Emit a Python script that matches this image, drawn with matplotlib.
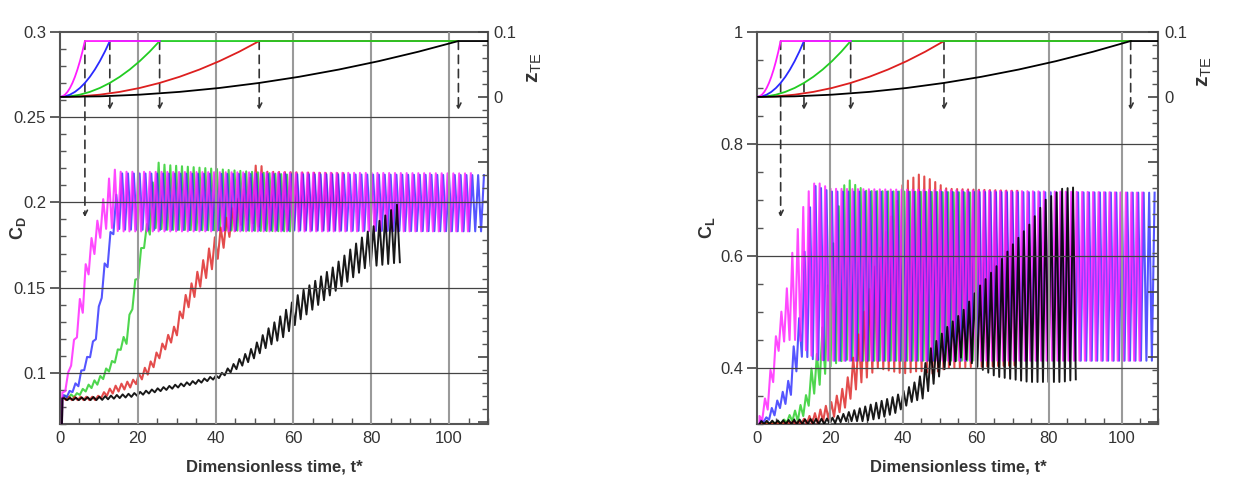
import numpy as np
import matplotlib
matplotlib.use("Agg")
import matplotlib.pyplot as plt
from matplotlib.ticker import MultipleLocator, FixedLocator, FuncFormatter

plt.rcParams['font.family'] = ['Liberation Sans', 'DejaVu Sans']
plt.rcParams['mathtext.fontset'] = 'custom'
plt.rcParams['mathtext.rm'] = 'Liberation Sans'
plt.rcParams['mathtext.bf'] = 'Liberation Sans:bold'
plt.rcParams['mathtext.it'] = 'Liberation Sans:italic'

# ---------------- data ----------------
names = ["magenta", "blue", "green", "red", "black"]
colors = {"magenta": "#ff1cff", "blue": "#2a2aff", "green": "#22cc22",
          "red": "#dd1f1f", "black": "#000000"}
ramp_T = {"magenta": 6.4, "blue": 12.8, "green": 25.6, "red": 51.2, "black": 102.4}
z_end = {"magenta": 25.6, "blue": 25.6, "green": 102.4, "red": 102.4, "black": 110.0}
z_plateau = 0.086
ramp_frac = [0.0, 0.1, 0.2, 0.3, 0.4, 0.5, 0.6, 0.7, 0.8, 0.9, 1.0]
ramp_shape = [0.0, 0.01, 0.04, 0.09, 0.16, 0.25, 0.36, 0.49, 0.64, 0.81, 1.0]
period = 1.5
phase = {"magenta": 0.0, "blue": 0.37, "green": 0.75, "red": 0.2, "black": 0.5}

# CD envelopes (t, upper, lower), last knot = end of run
cd_t = {
    "magenta": [0, 1, 2.5, 4, 5.5, 7.5, 10, 12, 13.5, 15, 106],
    "blue": [0, 2, 4.7, 5.7, 7.7, 9.4, 10.3, 12, 12.8, 14.1, 15.5, 109],
    "green": [0, 4.3, 10.3, 13.7, 16.3, 17.1, 18.4, 19.7, 21.4, 22.7, 24.5, 27, 60],
    "red": [0, 9.4, 13.7, 18.8, 23.1, 27.4, 29.9, 31.7, 35.9, 39.4, 43.6, 47.9, 50.8, 53, 73],
    "black": [0, 10.3, 18.8, 27.4, 35.9, 41, 44.5, 49.6, 53.1, 57.4, 61.6, 70.2, 78.7, 87.7],
}
cd_up = {
    "magenta": [0.086, 0.09, 0.104, 0.125, 0.15, 0.175, 0.192, 0.21, 0.22, 0.218, 0.217],
    "blue": [0.086, 0.088, 0.096, 0.103, 0.113, 0.125, 0.147, 0.172, 0.18, 0.2, 0.217, 0.216],
    "green": [0.086, 0.088, 0.098, 0.108, 0.121, 0.122, 0.143, 0.159, 0.18, 0.19, 0.224, 0.222, 0.216],
    "red": [0.086, 0.086, 0.092, 0.096, 0.106, 0.121, 0.129, 0.143, 0.162, 0.178, 0.194, 0.21, 0.224, 0.218, 0.217],
    "black": [0.085, 0.086, 0.088, 0.092, 0.096, 0.099, 0.105, 0.115, 0.125, 0.135, 0.147, 0.162, 0.182, 0.201],
}
cd_lo = {
    "magenta": [0.084, 0.086, 0.1, 0.118, 0.13, 0.16, 0.178, 0.185, 0.185, 0.183, 0.183],
    "blue": [0.084, 0.086, 0.092, 0.099, 0.109, 0.121, 0.139, 0.159, 0.17, 0.186, 0.184, 0.183],
    "green": [0.084, 0.086, 0.094, 0.104, 0.117, 0.117, 0.135, 0.15, 0.172, 0.18, 0.185, 0.184, 0.183],
    "red": [0.084, 0.084, 0.088, 0.092, 0.1, 0.115, 0.121, 0.133, 0.15, 0.162, 0.18, 0.19, 0.186, 0.184, 0.184],
    "black": [0.084, 0.084, 0.086, 0.09, 0.094, 0.097, 0.101, 0.108, 0.115, 0.121, 0.131, 0.147, 0.162, 0.165],
}

# CL envelopes
cl_t = {
    "magenta": [0, 0.7, 2.3, 3.7, 5.8, 7.6, 9.4, 11.7, 13.5, 16, 20, 106],
    "blue": [0, 2.3, 4.1, 6.4, 8.7, 10, 11.5, 13.5, 15.5, 20, 109],
    "green": [0, 6.8, 9.6, 11.5, 13.3, 15.2, 17.1, 19.4, 22, 24.4, 27.2, 30, 60],
    "red": [0, 11.5, 16, 20.5, 24.2, 26, 27.8, 33, 40, 44.5, 48, 52, 72],
    "black": [0, 20, 24.5, 29, 33.5, 38, 42.5, 45.3, 47, 51.6, 56.2, 60.8, 65.4, 70, 74.5, 79, 83.6, 87.6],
}
cl_up = {
    "magenta": [0.31, 0.315, 0.35, 0.4, 0.485, 0.52, 0.6, 0.665, 0.71, 0.733, 0.72, 0.713],
    "blue": [0.305, 0.31, 0.33, 0.35, 0.38, 0.44, 0.49, 0.65, 0.726, 0.715, 0.713],
    "green": [0.3, 0.305, 0.32, 0.33, 0.35, 0.41, 0.435, 0.55, 0.68, 0.74, 0.725, 0.716, 0.713],
    "red": [0.3, 0.305, 0.32, 0.34, 0.37, 0.41, 0.46, 0.6, 0.73, 0.746, 0.735, 0.72, 0.716],
    "black": [0.305, 0.31, 0.32, 0.33, 0.34, 0.35, 0.37, 0.39, 0.43, 0.47, 0.5, 0.545, 0.58, 0.62, 0.655, 0.7, 0.72, 0.723],
}
cl_lo = {
    "magenta": [0.3, 0.305, 0.31, 0.35, 0.43, 0.45, 0.45, 0.45, 0.43, 0.415, 0.413, 0.413],
    "blue": [0.3, 0.305, 0.31, 0.33, 0.34, 0.37, 0.42, 0.42, 0.415, 0.413, 0.413],
    "green": [0.3, 0.3, 0.305, 0.305, 0.32, 0.35, 0.37, 0.4, 0.41, 0.415, 0.413, 0.413, 0.413],
    "red": [0.3, 0.3, 0.3, 0.31, 0.33, 0.35, 0.37, 0.4, 0.39, 0.395, 0.39, 0.4, 0.405],
    "black": [0.3, 0.3, 0.305, 0.305, 0.31, 0.32, 0.34, 0.345, 0.36, 0.4, 0.42, 0.4, 0.385, 0.38, 0.375, 0.375, 0.375, 0.38],
}
start_t = [0.0, 0.6]
cd_start = [0.0, 0.085]
cl_start = [0.2, 0.3]

draw_order = ["green", "red", "blue", "magenta", "black"]
z_order = ["red", "green", "blue", "magenta", "black"]


def zigzag(tk, up, lo, ph):
    t = np.arange(tk[0] + 0.6 + ph, tk[-1], period / 2)
    u = np.interp(t, tk, up)
    l = np.interp(t, tk, lo)
    v = np.where(np.arange(len(t)) % 2 == 0, u, l)
    return t, v


def panel(ax, env_t, env_up, env_lo, start_v, ylim, ymajor, yminor, ylabel, ylab_x):
    for n in draw_order:
        t, v = zigzag(env_t[n], env_up[n], env_lo[n], phase[n])
        t = np.concatenate([start_t, t])
        v = np.concatenate([start_v, v])
        if n == "black":
            ax.plot(t, v, color=colors[n], lw=1.4, alpha=0.9, zorder=3)
        else:
            ax.plot(t, v, color=colors[n], lw=1.5, alpha=0.8, zorder=3)
    ax.set_xlim(0, 110)
    ax.set_ylim(*ylim)
    for x in [20, 40, 60, 80, 100]:
        ax.axvline(x, color="#9a9a9a", lw=1.5, zorder=6)
    for y in ymajor:
        if ylim[0] < y < ylim[1]:
            ax.axhline(y, color="#444444", lw=0.9, zorder=6)
    ax.xaxis.set_major_locator(MultipleLocator(20))
    ax.xaxis.set_minor_locator(MultipleLocator(5))
    ax.yaxis.set_major_locator(FixedLocator(ymajor))
    ax.yaxis.set_minor_locator(MultipleLocator(yminor))
    ax.yaxis.set_major_formatter(FuncFormatter(lambda v, p: ("%g" % round(v, 3))))
    ax.tick_params(axis="x", which="major", direction="in", length=6, width=1.2,
                   labelsize=12, colors="#444444", labelcolor="#333333", pad=5)
    ax.tick_params(axis="x", which="minor", direction="in", length=4, width=1.0, colors="#555555")
    ax.tick_params(axis="y", which="major", direction="out", length=7, width=1.2,
                   labelsize=12, colors="#444444", labelcolor="#333333", pad=3, right=False)
    ax.tick_params(axis="y", which="minor", direction="in", length=4, width=1.0,
                   colors="#555555", right=False)
    for s in ax.spines.values():
        s.set_color("#555555")
        s.set_linewidth(1.5)
    ax.set_xlabel("Dimensionless time, t*", fontsize=12, fontweight="bold",
                  color="#333333", labelpad=10)
    ax.set_ylabel(ylabel, fontsize=13, color="#333333")
    ax.yaxis.set_label_coords(ylab_x, 0.5)

    az = ax.twinx()
    az.set_ylim(-0.5035, 0.1)
    for n in z_order:
        T = ramp_T[n]
        tz = [f * T for f in ramp_frac] + [z_end[n]]
        zz = [s * z_plateau for s in ramp_shape] + [z_plateau]
        az.plot(tz, zz, color=colors[n], lw=1.3, zorder=4)
    for n in names:
        T = ramp_T[n]
        zt = -0.185 if n == "magenta" else -0.02
        az.annotate("", xy=(T, zt), xytext=(T, z_plateau),
                    arrowprops=dict(arrowstyle="->", color="#333333", lw=1.2,
                                    linestyle=(0, (5, 3.5)), shrinkA=0, shrinkB=0,
                                    mutation_scale=9))
    az.yaxis.set_major_locator(FixedLocator([-0.5, -0.4, -0.3, -0.2, -0.1, 0.0, 0.1]))
    az.yaxis.set_minor_locator(MultipleLocator(0.02))
    az.yaxis.set_major_formatter(FuncFormatter(lambda v, p: {0.0: "0", 0.1: "0.1"}.get(round(v, 3), "")))
    az.tick_params(axis="y", which="major", direction="in", length=7, width=1.2,
                   labelsize=12, colors="#444444", labelcolor="#333333", pad=4)
    az.tick_params(axis="y", which="minor", direction="in", length=4, width=1.0, colors="#555555")
    for s in az.spines.values():
        s.set_visible(False)
    return az


fig = plt.figure(figsize=(12.58, 4.87), dpi=100)
axL = fig.add_axes([0.0477, 0.1294, 0.3402, 0.805])
axR = fig.add_axes([0.602, 0.1294, 0.3188, 0.805])

azL = panel(axL, cd_t, cd_up, cd_lo, cd_start, (0.07, 0.3), [0.1, 0.15, 0.2, 0.25, 0.3], 0.01,
            r"$\mathbf{C}_{\mathbf{D}}$", -0.075)
azR = panel(axR, cl_t, cl_up, cl_lo, cl_start, (0.3, 1.0), [0.4, 0.6, 0.8, 1.0], 0.05,
            r"$\mathbf{C}_{\mathbf{L}}$", -0.1)

fig.text(535 / 1258, 1 - 68 / 487, r"$\mathbf{z}_{\mathrm{TE}}$", rotation=90,
         fontsize=15, color="#333333", ha="center", va="center")
fig.text(1204 / 1258, 1 - 72 / 487, r"$\mathbf{z}_{\mathrm{TE}}$", rotation=90,
         fontsize=15, color="#333333", ha="center", va="center")

fig.savefig("out.png", dpi=100)
